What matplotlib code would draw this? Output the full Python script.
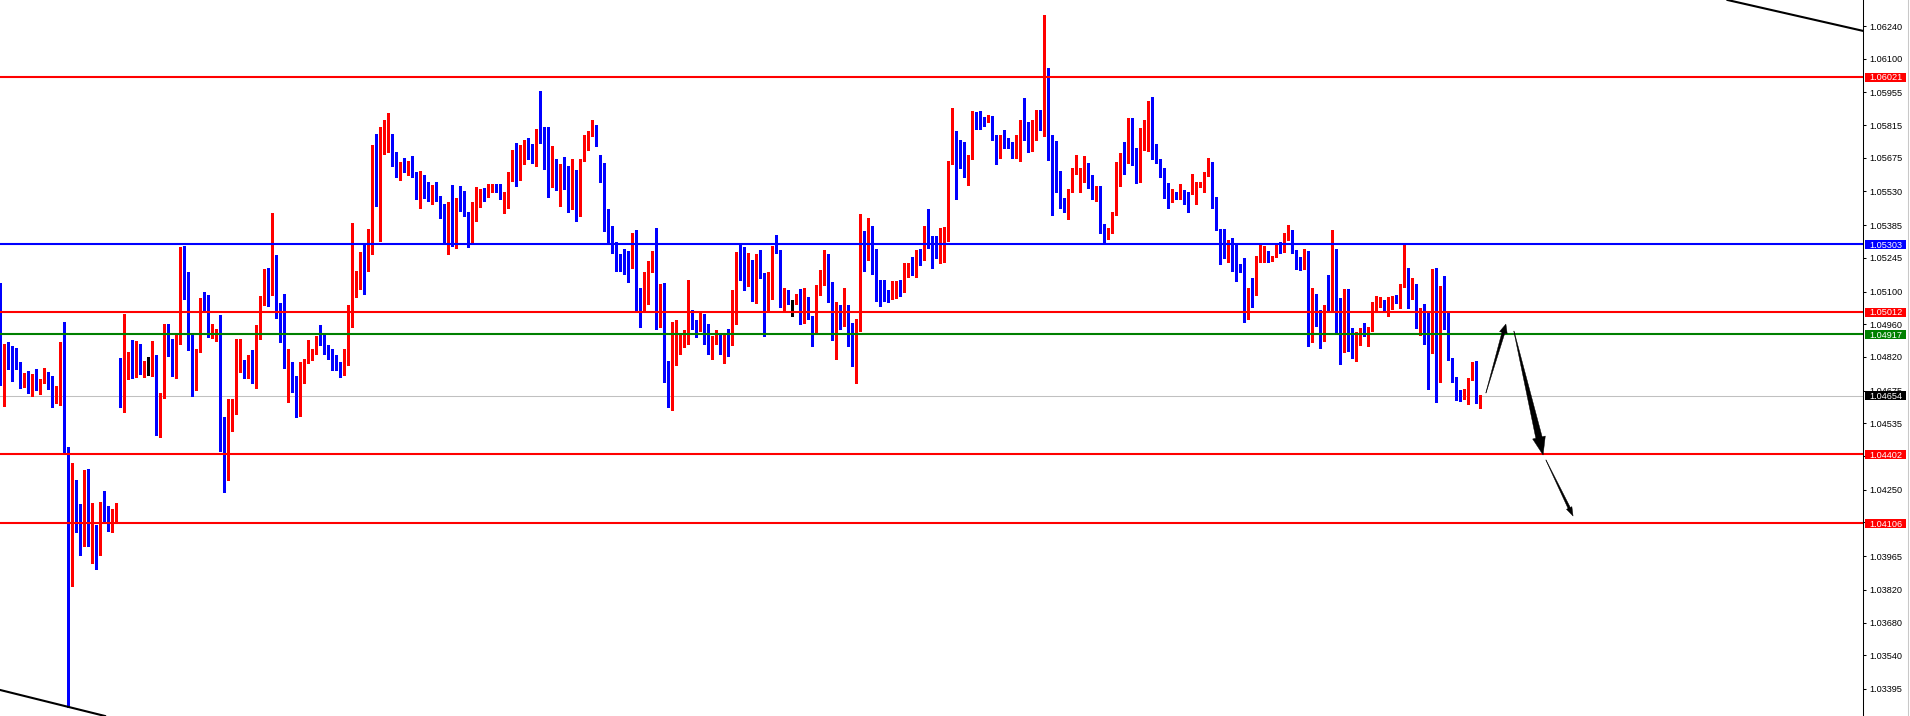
import matplotlib
matplotlib.use("Agg")
import matplotlib.pyplot as plt
import numpy as np
from matplotlib.transforms import blended_transform_factory, IdentityTransform
from matplotlib.patches import Rectangle, Polygon
from matplotlib.lines import Line2D

# ---------------- data (prices, one candle per bar) ----------------
opens = [
1.05095,1.04730,1.04868,1.04855,1.04838,1.04778,1.04709,1.04726,1.04675,1.04748,
1.04705,1.04717,1.04743,1.04735,1.04636,1.04683,1.04855,1.04426,1.04009,1.04288,
1.04159,1.04064,1.04288,1.04030,1.04099,1.03970,1.04185,1.04155,1.04094,1.04133,
1.04799,1.04760,1.04778,1.04799,1.04769,1.04863,1.04765,1.04786,1.04782,1.04829,
1.04494,1.04645,1.04885,1.04846,1.04782,1.04876,1.05275,1.05074,1.04872,1.04765,
1.04850,1.05065,1.05044,1.04906,1.04889,1.04919,1.04430,1.04340,1.04533,1.04597,
1.04769,1.04790,1.04743,1.04756,1.04709,1.04902,1.05061,1.05164,1.05121,1.05232,
1.05022,1.05018,1.04786,1.04795,1.04692,1.04623,1.04717,1.04795,1.04820,1.04842,
1.04911,1.04881,1.04855,1.04842,1.04816,1.04778,1.04756,1.04786,1.04971,1.05129,
1.05155,1.05271,1.05249,1.05262,1.05717,1.05537,1.05696,1.05734,1.05756,1.05648,
1.05614,1.05644,1.05610,1.05640,1.05605,1.05507,1.05567,1.05558,1.05511,1.05541,
1.05490,1.05472,1.05404,1.05434,1.05305,1.05498,1.05485,1.05443,1.05322,1.05481,
1.05511,1.05533,1.05515,1.05541,1.05558,1.05537,1.05438,1.05498,1.05588,1.05618,
1.05584,1.05700,1.05730,1.05687,1.05666,1.05794,1.05781,1.05687,1.05563,1.05636,
1.05614,1.05640,1.05614,1.05520,1.05605,1.05451,1.05661,1.05739,1.05781,1.05816,
1.05631,1.05593,1.05425,1.05348,1.05292,1.05241,1.05224,1.05219,1.05206,1.05322,
1.05022,1.05018,1.05121,1.05202,1.05224,1.04996,1.05048,1.04726,1.04679,1.04825,
1.04863,1.04885,1.04889,1.04992,1.04945,1.04936,1.05001,1.04898,1.04868,1.04881,
1.04898,1.04842,1.04906,1.04872,1.04966,1.05245,1.05194,1.05134,1.05219,1.05061,
1.05232,1.05176,1.05155,1.05164,1.05279,1.05271,1.05035,1.05082,1.05056,1.05048,
1.05091,1.04979,1.05052,1.04992,1.04919,1.05095,1.05138,1.05219,1.05082,1.04898,
1.05022,1.04979,1.05039,1.04902,1.04825,1.04932,1.05284,1.05258,1.05365,1.05181,
1.05125,1.05116,1.05078,1.05078,1.05112,1.05134,1.05112,1.05185,1.05219,1.05172,
1.05258,1.05245,1.05340,1.05288,1.05267,1.05249,1.05352,1.05357,1.05657,1.05747,
1.05708,1.05691,1.05661,1.05670,1.05867,1.05833,1.05846,1.05837,1.05854,1.05760,
1.05674,1.05760,1.05747,1.05739,1.05708,1.05734,1.05829,1.05807,1.05760,1.05811,
1.05859,1.05799,1.06034,1.05773,1.05627,1.05614,1.05502,1.05481,1.05533,1.05623,
1.05528,1.05610,1.05648,1.05601,1.05507,1.05541,1.05365,1.05335,1.05361,1.05430,
1.05631,1.05666,1.05653,1.05794,1.05678,1.05644,1.05747,1.05769,1.05902,1.05696,
1.05661,1.05627,1.05545,1.05485,1.05520,1.05511,1.05537,1.05528,1.05520,1.05520,
1.05554,1.05563,1.05605,1.05653,1.05477,1.05370,1.05305,1.05271,1.05301,1.05301,
1.05219,1.05189,1.05026,1.05108,1.05086,1.05241,1.05254,1.05258,1.05237,1.05249,
1.05301,1.05279,1.05335,1.05361,1.05271,1.05232,1.05228,1.05254,1.04889,1.05048,
1.04992,1.04941,1.05026,1.05022,1.05232,1.05001,1.04898,1.05069,1.04868,1.04838,
1.04902,1.04915,1.04906,1.04936,1.05039,1.05044,1.05052,1.05022,1.05044,1.05082,
1.05052,1.05129,1.05159,1.05078,1.05091,1.04953,1.05013,1.04881,1.04838,1.05181,
1.04717,1.05125,1.04996,1.04812,1.04713,1.04662,1.04645,1.04670,1.04726,1.04786,
1.04640]

highs = [
1.05138,1.04876,1.04885,1.04868,1.04859,1.04799,1.04752,1.04760,1.04748,1.04769,
1.04726,1.04773,1.04756,1.04739,1.04696,1.04885,1.04971,1.04434,1.04366,1.04293,
1.04189,1.04336,1.04340,1.04193,1.04099,1.04197,1.04245,1.04180,1.04167,1.04193,
1.04816,1.05005,1.04842,1.04893,1.04889,1.04876,1.04803,1.04820,1.04889,1.04829,
1.04666,1.04962,1.04962,1.04898,1.04923,1.05292,1.05297,1.05185,1.04919,1.04855,
1.05074,1.05099,1.05086,1.04962,1.04941,1.05001,1.04563,1.04640,1.04640,1.04898,
1.04898,1.04808,1.04829,1.04850,1.04958,1.05082,1.05198,1.05202,1.05438,1.05258,
1.05052,1.05091,1.04855,1.04799,1.04739,1.04799,1.04812,1.04893,1.04855,1.04911,
1.04958,1.04915,1.04872,1.04855,1.04829,1.04799,1.04855,1.05044,1.05395,1.05189,
1.05271,1.05305,1.05370,1.05730,1.05777,1.05807,1.05837,1.05867,1.05777,1.05700,
1.05657,1.05674,1.05661,1.05683,1.05614,1.05618,1.05601,1.05571,1.05558,1.05571,
1.05511,1.05477,1.05485,1.05558,1.05502,1.05554,1.05533,1.05443,1.05485,1.05550,
1.05541,1.05545,1.05563,1.05563,1.05563,1.05563,1.05528,1.05614,1.05708,1.05739,
1.05730,1.05751,1.05760,1.05734,1.05799,1.05962,1.05807,1.05807,1.05726,1.05670,
1.05648,1.05678,1.05640,1.05670,1.05623,1.05670,1.05773,1.05790,1.05837,1.05816,
1.05687,1.05653,1.05455,1.05382,1.05314,1.05262,1.05284,1.05275,1.05352,1.05365,
1.05116,1.05185,1.05232,1.05275,1.05374,1.05134,1.05138,1.04803,1.04971,1.04979,
1.04919,1.04936,1.05151,1.05022,1.04979,1.05009,1.05005,1.04962,1.04911,1.04936,
1.04915,1.04915,1.04941,1.05108,1.05271,1.05305,1.05292,1.05267,1.05237,1.05262,
1.05279,1.05181,1.05185,1.05297,1.05344,1.05279,1.05116,1.05108,1.05065,1.05091,
1.05112,1.05116,1.05078,1.04996,1.05129,1.05194,1.05279,1.05262,1.05142,1.05056,
1.05044,1.05116,1.05044,1.04966,1.04984,1.05434,1.05361,1.05417,1.05382,1.05284,
1.05151,1.05151,1.05108,1.05146,1.05146,1.05151,1.05224,1.05224,1.05249,1.05279,
1.05284,1.05382,1.05455,1.05340,1.05340,1.05374,1.05378,1.05661,1.05889,1.05790,
1.05751,1.05743,1.05687,1.05876,1.05872,1.05876,1.05850,1.05859,1.05854,1.05773,
1.05773,1.05794,1.05760,1.05743,1.05773,1.05837,1.05932,1.05829,1.05837,1.05880,
1.05880,1.06288,1.06060,1.05773,1.05747,1.05618,1.05502,1.05541,1.05631,1.05687,
1.05631,1.05683,1.05653,1.05601,1.05554,1.05554,1.05391,1.05374,1.05443,1.05657,
1.05696,1.05743,1.05846,1.05846,1.05717,1.05803,1.05837,1.05919,1.05936,1.05734,
1.05670,1.05631,1.05567,1.05541,1.05528,1.05563,1.05537,1.05528,1.05605,1.05571,
1.05571,1.05614,1.05674,1.05657,1.05507,1.05370,1.05370,1.05322,1.05331,1.05301,
1.05219,1.05245,1.05116,1.05159,1.05254,1.05301,1.05297,1.05275,1.05254,1.05305,
1.05314,1.05352,1.05387,1.05365,1.05279,1.05249,1.05284,1.05275,1.05116,1.05091,
1.05022,1.05044,1.05172,1.05365,1.05284,1.05074,1.05112,1.05112,1.04945,1.04928,
1.04945,1.04966,1.04949,1.05056,1.05082,1.05078,1.05065,1.05078,1.05082,1.05086,
1.05134,1.05301,1.05202,1.05159,1.05134,1.05031,1.05048,1.05013,1.05198,1.05202,
1.05125,1.05168,1.05009,1.04816,1.04735,1.04679,1.04683,1.04730,1.04799,1.04803,
1.04657]

lows = [
1.04700,1.04610,1.04769,1.04717,1.04769,1.04687,1.04692,1.04666,1.04653,1.04679,
1.04662,1.04709,1.04683,1.04606,1.04623,1.04614,1.04413,1.03318,1.03837,1.04069,
1.03970,1.04009,1.04009,1.03936,1.03910,1.03970,1.04112,1.04073,1.04069,1.04112,
1.04606,1.04585,1.04726,1.04730,1.04735,1.04748,1.04735,1.04743,1.04739,1.04486,
1.04477,1.04645,1.04825,1.04739,1.04730,1.04876,1.05069,1.04850,1.04653,1.04679,
1.04842,1.05018,1.04906,1.04902,1.04889,1.04417,1.04241,1.04293,1.04503,1.04576,
1.04756,1.04730,1.04730,1.04709,1.04687,1.04898,1.05044,1.05039,1.05086,1.04988,
1.04885,1.04773,1.04627,1.04670,1.04563,1.04567,1.04709,1.04795,1.04808,1.04833,
1.04872,1.04833,1.04812,1.04765,1.04765,1.04735,1.04743,1.04786,1.04949,1.05078,
1.05112,1.05091,1.05189,1.05262,1.05468,1.05318,1.05691,1.05700,1.05640,1.05593,
1.05580,1.05614,1.05601,1.05593,1.05498,1.05460,1.05502,1.05490,1.05477,1.05490,
1.05417,1.05305,1.05262,1.05297,1.05288,1.05447,1.05425,1.05292,1.05310,1.05404,
1.05464,1.05490,1.05507,1.05528,1.05528,1.05498,1.05438,1.05460,1.05575,1.05554,
1.05580,1.05648,1.05670,1.05653,1.05640,1.05739,1.05627,1.05507,1.05550,1.05537,
1.05468,1.05541,1.05443,1.05455,1.05404,1.05425,1.05661,1.05708,1.05769,1.05726,
1.05571,1.05361,1.05305,1.05267,1.05189,1.05189,1.05176,1.05142,1.05202,1.05018,
1.04949,1.05018,1.05048,1.05185,1.04941,1.04949,1.04713,1.04606,1.04593,1.04786,
1.04833,1.04863,1.04876,1.04941,1.04906,1.04932,1.04876,1.04833,1.04812,1.04876,
1.04833,1.04795,1.04825,1.04872,1.04962,1.05151,1.05108,1.05125,1.05061,1.05052,
1.05159,1.04911,1.05018,1.05069,1.05267,1.05035,1.05018,1.05048,1.04996,1.05048,
1.04962,1.04966,1.04984,1.04868,1.04919,1.05086,1.05129,1.05056,1.04893,1.04812,
1.04941,1.04953,1.04868,1.04782,1.04709,1.04932,1.05189,1.05237,1.05176,1.05061,
1.05039,1.05061,1.05056,1.05069,1.05074,1.05082,1.05099,1.05164,1.05172,1.05164,
1.05215,1.05237,1.05288,1.05202,1.05245,1.05224,1.05228,1.05318,1.05648,1.05498,
1.05631,1.05593,1.05558,1.05670,1.05799,1.05799,1.05811,1.05829,1.05751,1.05648,
1.05674,1.05717,1.05717,1.05674,1.05674,1.05661,1.05751,1.05700,1.05704,1.05751,
1.05794,1.05769,1.05666,1.05430,1.05528,1.05460,1.05443,1.05413,1.05528,1.05605,
1.05528,1.05571,1.05545,1.05498,1.05490,1.05352,1.05305,1.05327,1.05352,1.05430,
1.05554,1.05605,1.05653,1.05644,1.05567,1.05571,1.05708,1.05704,1.05670,1.05653,
1.05593,1.05502,1.05460,1.05485,1.05498,1.05498,1.05477,1.05443,1.05520,1.05477,
1.05550,1.05528,1.05597,1.05460,1.05365,1.05219,1.05245,1.05228,1.05189,1.05146,
1.05185,1.04971,1.04984,1.05035,1.05086,1.05228,1.05228,1.05228,1.05232,1.05249,
1.05267,1.05271,1.05322,1.05267,1.05198,1.05194,1.05198,1.04868,1.04885,1.04953,
1.04859,1.04889,1.05018,1.05022,1.04928,1.04790,1.04842,1.04846,1.04816,1.04803,
1.04872,1.04911,1.04868,1.04932,1.05022,1.05035,1.05018,1.04996,1.05026,1.05052,
1.05031,1.05121,1.05031,1.05069,1.04945,1.04915,1.04876,1.04683,1.04838,1.04627,
1.04713,1.04941,1.04808,1.04713,1.04636,1.04632,1.04640,1.04619,1.04722,1.04623,
1.04602]

closes = [
1.04735,1.04868,1.04850,1.04833,1.04778,1.04709,1.04726,1.04675,1.04748,1.04705,
1.04722,1.04743,1.04735,1.04636,1.04687,1.04855,1.04421,1.04009,1.04288,1.04155,
1.04064,1.04288,1.04030,1.04099,1.03970,1.04180,1.04155,1.04094,1.04137,1.04167,
1.04769,1.04786,1.04808,1.04769,1.04863,1.04769,1.04782,1.04786,1.04829,1.04494,
1.04649,1.04889,1.04846,1.04782,1.04881,1.05275,1.05069,1.04872,1.04765,1.04855,
1.05065,1.05044,1.04911,1.04919,1.04919,1.04426,1.04340,1.04533,1.04602,1.04773,
1.04790,1.04739,1.04756,1.04709,1.04906,1.05065,1.05164,1.05121,1.05232,1.05022,
1.05018,1.04782,1.04795,1.04692,1.04632,1.04722,1.04799,1.04859,1.04838,1.04911,
1.04881,1.04855,1.04842,1.04816,1.04778,1.04756,1.04790,1.04975,1.05134,1.05155,
1.05271,1.05249,1.05271,1.05717,1.05541,1.05700,1.05734,1.05756,1.05648,1.05614,
1.05644,1.05623,1.05640,1.05605,1.05507,1.05563,1.05558,1.05511,1.05541,1.05490,
1.05472,1.05404,1.05434,1.05301,1.05498,1.05485,1.05443,1.05327,1.05485,1.05515,
1.05533,1.05515,1.05545,1.05558,1.05533,1.05498,1.05485,1.05554,1.05618,1.05584,
1.05700,1.05730,1.05687,1.05670,1.05794,1.05781,1.05687,1.05563,1.05636,1.05614,
1.05640,1.05614,1.05520,1.05605,1.05451,1.05666,1.05743,1.05786,1.05816,1.05739,
1.05588,1.05425,1.05348,1.05292,1.05241,1.05224,1.05219,1.05206,1.05322,1.05018,
1.05013,1.05129,1.05211,1.05224,1.04996,1.05048,1.04726,1.04679,1.04829,1.04868,
1.04889,1.04898,1.04992,1.04945,1.04936,1.05001,1.04898,1.04868,1.04889,1.04898,
1.04842,1.04906,1.04868,1.04971,1.05245,1.05194,1.05134,1.05219,1.05065,1.05232,
1.05176,1.05155,1.05168,1.05279,1.05267,1.05035,1.05082,1.05052,1.05056,1.05091,
1.04979,1.05056,1.04992,1.04923,1.05099,1.05142,1.05219,1.05082,1.04898,1.05022,
1.04979,1.05044,1.04902,1.04825,1.04936,1.05284,1.05258,1.05365,1.05181,1.05125,
1.05116,1.05078,1.05069,1.05116,1.05134,1.05108,1.05189,1.05219,1.05172,1.05258,
1.05245,1.05344,1.05288,1.05267,1.05249,1.05357,1.05361,1.05661,1.05747,1.05708,
1.05691,1.05661,1.05683,1.05867,1.05833,1.05811,1.05833,1.05854,1.05760,1.05674,
1.05773,1.05747,1.05739,1.05708,1.05734,1.05829,1.05807,1.05760,1.05816,1.05863,
1.05799,1.06034,1.05777,1.05618,1.05605,1.05498,1.05481,1.05537,1.05627,1.05644,
1.05614,1.05648,1.05580,1.05507,1.05541,1.05361,1.05335,1.05365,1.05434,1.05636,
1.05666,1.05648,1.05794,1.05674,1.05644,1.05751,1.05773,1.05902,1.05691,1.05657,
1.05623,1.05537,1.05490,1.05502,1.05507,1.05533,1.05520,1.05520,1.05524,1.05558,
1.05567,1.05610,1.05657,1.05472,1.05365,1.05305,1.05267,1.05301,1.05292,1.05219,
1.05185,1.05026,1.05108,1.05086,1.05245,1.05258,1.05258,1.05237,1.05254,1.05301,
1.05275,1.05340,1.05361,1.05271,1.05232,1.05228,1.05245,1.04889,1.05048,1.04992,
1.04941,1.05026,1.05018,1.05232,1.04996,1.04893,1.05069,1.04863,1.04833,1.04906,
1.04915,1.04911,1.04941,1.05048,1.05048,1.05052,1.05022,1.05044,1.05078,1.05052,
1.05134,1.05155,1.05082,1.05091,1.04953,1.05013,1.04881,1.04838,1.05176,1.04717,
1.05125,1.04996,1.04812,1.04713,1.04662,1.04636,1.04675,1.04726,1.04786,1.04640,
1.04654]

level_prices = [1.06021, 1.05303, 1.05012, 1.04917, 1.04402, 1.04106]
level_colors = ['#ff0000', '#0000ff', '#ff0000', '#008000', '#ff0000', '#ff0000']
last_price = 1.04654
tick_values = [1.06240, 1.06100, 1.05955, 1.05815, 1.05675, 1.05530, 1.05385,
               1.05245, 1.05100, 1.04960, 1.04820, 1.04675, 1.04535, 1.04395,
               1.04250, 1.04110, 1.03965, 1.03820, 1.03680, 1.03540, 1.03395]

# trend lines: two (bar index, price) anchor points each
trend_lines = [((431.7, 1.06352), (465.7, 1.06219)),
               ((-0.1, 1.03391), (26.2, 1.03279))]

# projected path arrows: start (bar, price), end (bar, price)
arrow_starts = [(371.4, 1.04665), (378.4, 1.04931), (386.4, 1.04378)]
arrow_ends = [(376.4, 1.04961), (385.7, 1.04399), (393.2, 1.04137)]

# ---------------- figure ----------------
W, H = 1910, 716
AX_W = 1863
fig = plt.figure(figsize=(W / 100, H / 100), dpi=100)
ax = fig.add_axes([0, 0, AX_W / W, 1])
ax.set_facecolor('white')
fig.patch.set_facecolor('white')

n = len(closes)
x = np.arange(n)
o = np.array(opens); h = np.array(highs); l = np.array(lows); c = np.array(closes)

ax.set_xlim(-0.075, -0.075 + AX_W / 4.0)
ax.set_ylim(1.032791, 1.063516)

cols = np.where(c > o, '#ff0000', np.where(c < o, '#0000ff', '#000000'))
hi = np.maximum(h, np.maximum(o, c))
lo = np.minimum(l, np.minimum(o, c))
ax.vlines(x, lo, hi, colors=cols, linewidth=0.75, antialiased=False, zorder=2)
body_bottom = np.minimum(o, c)
body_h = np.maximum(np.abs(c - o), 0.00004)
ax.bar(x, body_h, bottom=body_bottom, width=0.75, color=cols, linewidth=0,
       antialiased=False, zorder=3)

# horizontal levels
for p, col in zip(level_prices, level_colors):
    ax.axhline(p, color=col, linewidth=1.5, zorder=4)
ax.axhline(last_price, color='#c0c0c0', linewidth=0.75, zorder=1.5)

# trend lines
for p0, p1 in trend_lines:
    ax.axline(p0, p1, color='black', linewidth=1.5, zorder=4)

# spines / ticks
for s in ['left', 'top', 'bottom']:
    ax.spines[s].set_visible(False)
ax.spines['right'].set_color('black')
ax.spines['right'].set_linewidth(0.75)
ax.set_xticks([])
ax.yaxis.tick_right()
ax.set_yticks(tick_values)
ax.set_yticklabels([f'{v:.5f}' for v in tick_values])
ax.tick_params(axis='y', direction='out', length=2.3, width=0.75, pad=2.0,
               labelsize=6.6, colors='black')
for lab in ax.get_yticklabels():
    lab.set_fontfamily('Liberation Sans')

# price labels on the axis
blend = blended_transform_factory(ax.transAxes, ax.transData)
box_h = 9.0 / 23304.0
def price_tag(p, col):
    ax.add_patch(Rectangle((1 + 2.0 / AX_W, p - box_h / 2), 41.0 / AX_W, box_h,
                           transform=blend, facecolor=col, edgecolor='none',
                           clip_on=False, zorder=10))
    ax.annotate(f'{p:.5f}', xy=(1, p), xycoords=blend, xytext=(6, -3.3),
                textcoords='offset pixels', ha='left', va='baseline',
                color='white', fontsize=6.6, family='Liberation Sans',
                annotation_clip=False, zorder=11)

for p, col in zip(level_prices, level_colors):
    price_tag(p, col)
price_tag(last_price, '#000000')

# right border line
fig.add_artist(Line2D([1907.5 / W, 1907.5 / W], [0, 1], color='#c8c8c8',
                      linewidth=0.75, transform=fig.transFigure))

# tapered arrows
arrow_style = [(0.3, 3.0, 9.0, 8.0), (0.3, 6.5, 18.0, 13.0), (0.3, 2.5, 9.0, 6.0)]
fig.canvas.draw()
for (s, e, (w0, w1, hl, hw)) in zip(arrow_starts, arrow_ends, arrow_style):
    p0 = ax.transData.transform(s)
    p1 = ax.transData.transform(e)
    d = p1 - p0
    d = d / np.hypot(*d)
    nrm = np.array([-d[1], d[0]])
    b = p1 - d * hl
    pts = [p0 + nrm * w0 / 2, b + nrm * w1 / 2, b + nrm * hw / 2, p1,
           b - nrm * hw / 2, b - nrm * w1 / 2, p0 - nrm * w0 / 2]
    ax.add_patch(Polygon(pts, closed=True, facecolor='black', edgecolor='black',
                         linewidth=0.3, transform=IdentityTransform(), zorder=6,
                         clip_on=False))

fig.savefig('out.png', dpi=100, facecolor='white')
